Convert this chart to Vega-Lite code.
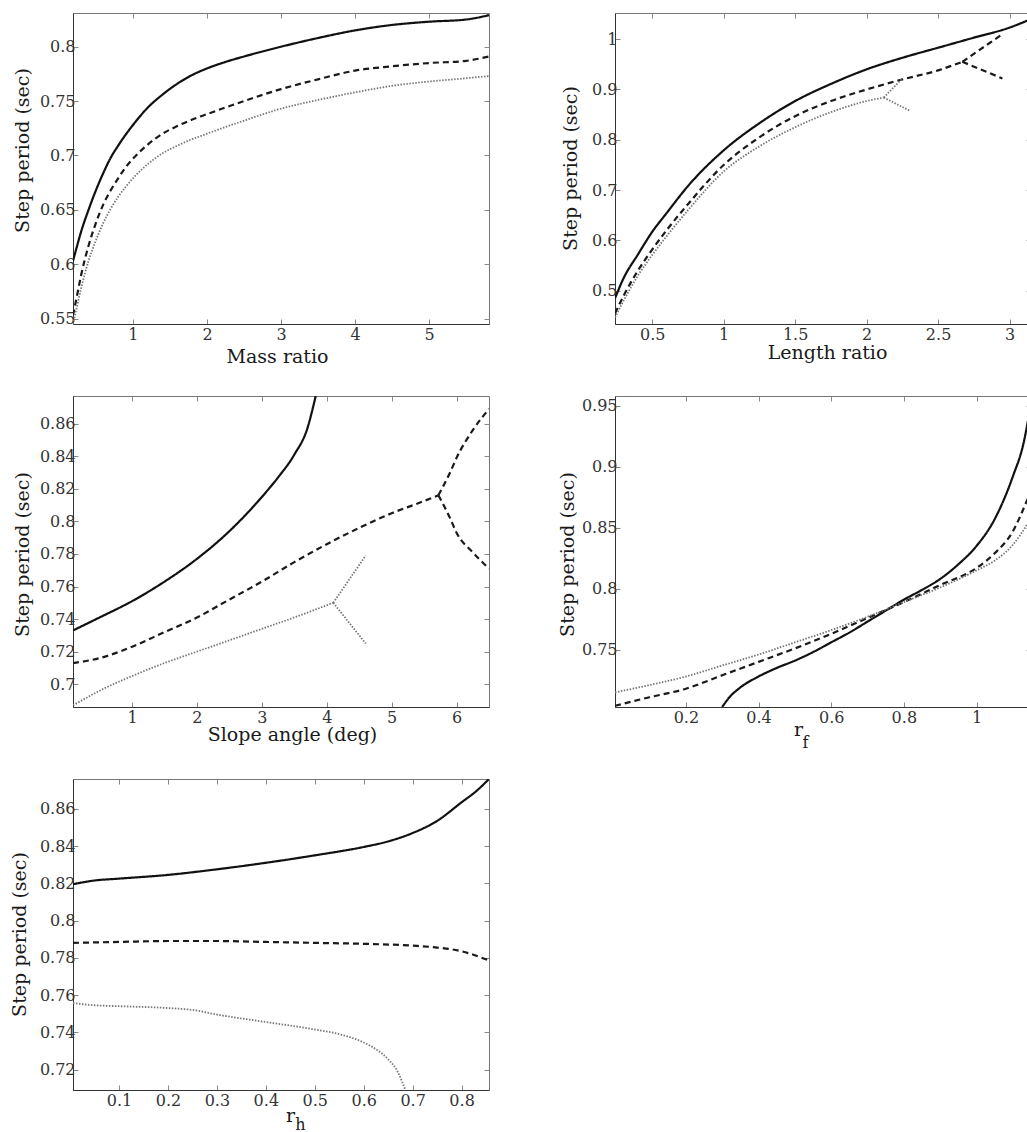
{
  "$schema": "https://vega.github.io/schema/vega-lite/v6.json",
  "background": "white",
  "padding": {"left": 9, "top": 12, "right": 0, "bottom": 0},
  "datasets": {
    "p1": [
      {"x": 0.19, "y": 0.603, "s": "solid", "g": "s"}, {"x": 0.25, "y": 0.618, "s": "solid", "g": "s"}, {"x": 0.3, "y": 0.63, "s": "solid", "g": "s"}, {"x": 0.4, "y": 0.65, "s": "solid", "g": "s"}, {"x": 0.5, "y": 0.668, "s": "solid", "g": "s"}, {"x": 0.6, "y": 0.684, "s": "solid", "g": "s"}, {"x": 0.7, "y": 0.698, "s": "solid", "g": "s"}, {"x": 0.8, "y": 0.709, "s": "solid", "g": "s"}, {"x": 0.9, "y": 0.719, "s": "solid", "g": "s"}, {"x": 1.0, "y": 0.728, "s": "solid", "g": "s"}, {"x": 1.2, "y": 0.744, "s": "solid", "g": "s"}, {"x": 1.4, "y": 0.756, "s": "solid", "g": "s"}, {"x": 1.6, "y": 0.766, "s": "solid", "g": "s"}, {"x": 1.8, "y": 0.774, "s": "solid", "g": "s"}, {"x": 2.0, "y": 0.78, "s": "solid", "g": "s"}, {"x": 2.25, "y": 0.786, "s": "solid", "g": "s"}, {"x": 2.5, "y": 0.791, "s": "solid", "g": "s"}, {"x": 3.0, "y": 0.8, "s": "solid", "g": "s"}, {"x": 3.5, "y": 0.808, "s": "solid", "g": "s"}, {"x": 4.0, "y": 0.815, "s": "solid", "g": "s"}, {"x": 4.5, "y": 0.82, "s": "solid", "g": "s"}, {"x": 5.0, "y": 0.823, "s": "solid", "g": "s"}, {"x": 5.5, "y": 0.825, "s": "solid", "g": "s"}, {"x": 5.81, "y": 0.829, "s": "solid", "g": "s"},
      {"x": 0.19, "y": 0.553, "s": "dashed", "g": "d"}, {"x": 0.25, "y": 0.573, "s": "dashed", "g": "d"}, {"x": 0.3, "y": 0.59, "s": "dashed", "g": "d"}, {"x": 0.4, "y": 0.617, "s": "dashed", "g": "d"}, {"x": 0.5, "y": 0.638, "s": "dashed", "g": "d"}, {"x": 0.6, "y": 0.655, "s": "dashed", "g": "d"}, {"x": 0.7, "y": 0.668, "s": "dashed", "g": "d"}, {"x": 0.8, "y": 0.679, "s": "dashed", "g": "d"}, {"x": 0.9, "y": 0.689, "s": "dashed", "g": "d"}, {"x": 1.0, "y": 0.697, "s": "dashed", "g": "d"}, {"x": 1.2, "y": 0.71, "s": "dashed", "g": "d"}, {"x": 1.4, "y": 0.72, "s": "dashed", "g": "d"}, {"x": 1.6, "y": 0.727, "s": "dashed", "g": "d"}, {"x": 1.8, "y": 0.733, "s": "dashed", "g": "d"}, {"x": 2.0, "y": 0.738, "s": "dashed", "g": "d"}, {"x": 2.5, "y": 0.75, "s": "dashed", "g": "d"}, {"x": 3.0, "y": 0.761, "s": "dashed", "g": "d"}, {"x": 3.5, "y": 0.77, "s": "dashed", "g": "d"}, {"x": 4.0, "y": 0.778, "s": "dashed", "g": "d"}, {"x": 4.5, "y": 0.782, "s": "dashed", "g": "d"}, {"x": 5.0, "y": 0.785, "s": "dashed", "g": "d"}, {"x": 5.5, "y": 0.787, "s": "dashed", "g": "d"}, {"x": 5.81, "y": 0.791, "s": "dashed", "g": "d"},
      {"x": 0.19, "y": 0.545, "s": "dotted", "g": "o"}, {"x": 0.25, "y": 0.563, "s": "dotted", "g": "o"}, {"x": 0.3, "y": 0.578, "s": "dotted", "g": "o"}, {"x": 0.4, "y": 0.603, "s": "dotted", "g": "o"}, {"x": 0.5, "y": 0.622, "s": "dotted", "g": "o"}, {"x": 0.6, "y": 0.638, "s": "dotted", "g": "o"}, {"x": 0.7, "y": 0.651, "s": "dotted", "g": "o"}, {"x": 0.8, "y": 0.662, "s": "dotted", "g": "o"}, {"x": 0.9, "y": 0.671, "s": "dotted", "g": "o"}, {"x": 1.0, "y": 0.679, "s": "dotted", "g": "o"}, {"x": 1.2, "y": 0.692, "s": "dotted", "g": "o"}, {"x": 1.4, "y": 0.702, "s": "dotted", "g": "o"}, {"x": 1.6, "y": 0.709, "s": "dotted", "g": "o"}, {"x": 1.8, "y": 0.715, "s": "dotted", "g": "o"}, {"x": 2.0, "y": 0.72, "s": "dotted", "g": "o"}, {"x": 2.5, "y": 0.732, "s": "dotted", "g": "o"}, {"x": 3.0, "y": 0.743, "s": "dotted", "g": "o"}, {"x": 3.5, "y": 0.751, "s": "dotted", "g": "o"}, {"x": 4.0, "y": 0.758, "s": "dotted", "g": "o"}, {"x": 4.5, "y": 0.764, "s": "dotted", "g": "o"}, {"x": 5.0, "y": 0.768, "s": "dotted", "g": "o"}, {"x": 5.5, "y": 0.771, "s": "dotted", "g": "o"}, {"x": 5.81, "y": 0.773, "s": "dotted", "g": "o"}
    ],
    "p2": [
      {"x": 0.24, "y": 0.485, "s": "solid", "g": "s"}, {"x": 0.3, "y": 0.525, "s": "solid", "g": "s"}, {"x": 0.4, "y": 0.572, "s": "solid", "g": "s"}, {"x": 0.5, "y": 0.617, "s": "solid", "g": "s"}, {"x": 0.6, "y": 0.654, "s": "solid", "g": "s"}, {"x": 0.75, "y": 0.708, "s": "solid", "g": "s"}, {"x": 1.0, "y": 0.779, "s": "solid", "g": "s"}, {"x": 1.25, "y": 0.833, "s": "solid", "g": "s"}, {"x": 1.5, "y": 0.877, "s": "solid", "g": "s"}, {"x": 1.75, "y": 0.911, "s": "solid", "g": "s"}, {"x": 2.0, "y": 0.94, "s": "solid", "g": "s"}, {"x": 2.25, "y": 0.963, "s": "solid", "g": "s"}, {"x": 2.5, "y": 0.983, "s": "solid", "g": "s"}, {"x": 2.75, "y": 1.003, "s": "solid", "g": "s"}, {"x": 3.0, "y": 1.023, "s": "solid", "g": "s"}, {"x": 3.15, "y": 1.04, "s": "solid", "g": "s"},
      {"x": 0.24, "y": 0.455, "s": "dashed", "g": "d"}, {"x": 0.3, "y": 0.49, "s": "dashed", "g": "d"}, {"x": 0.4, "y": 0.54, "s": "dashed", "g": "d"}, {"x": 0.5, "y": 0.582, "s": "dashed", "g": "d"}, {"x": 0.6, "y": 0.62, "s": "dashed", "g": "d"}, {"x": 0.75, "y": 0.672, "s": "dashed", "g": "d"}, {"x": 1.0, "y": 0.75, "s": "dashed", "g": "d"}, {"x": 1.25, "y": 0.805, "s": "dashed", "g": "d"}, {"x": 1.5, "y": 0.847, "s": "dashed", "g": "d"}, {"x": 1.75, "y": 0.877, "s": "dashed", "g": "d"}, {"x": 2.0, "y": 0.9, "s": "dashed", "g": "d"}, {"x": 2.25, "y": 0.92, "s": "dashed", "g": "d"}, {"x": 2.5, "y": 0.938, "s": "dashed", "g": "d"}, {"x": 2.67, "y": 0.955, "s": "dashed", "g": "d"},
      {"x": 2.67, "y": 0.955, "s": "dashed", "g": "du"}, {"x": 2.95, "y": 1.01, "s": "dashed", "g": "du"},
      {"x": 2.67, "y": 0.955, "s": "dashed", "g": "dd"}, {"x": 2.95, "y": 0.922, "s": "dashed", "g": "dd"},
      {"x": 0.24, "y": 0.447, "s": "dotted", "g": "o"}, {"x": 0.3, "y": 0.48, "s": "dotted", "g": "o"}, {"x": 0.4, "y": 0.53, "s": "dotted", "g": "o"}, {"x": 0.5, "y": 0.571, "s": "dotted", "g": "o"}, {"x": 0.6, "y": 0.608, "s": "dotted", "g": "o"}, {"x": 0.75, "y": 0.66, "s": "dotted", "g": "o"}, {"x": 1.0, "y": 0.737, "s": "dotted", "g": "o"}, {"x": 1.25, "y": 0.787, "s": "dotted", "g": "o"}, {"x": 1.5, "y": 0.825, "s": "dotted", "g": "o"}, {"x": 1.75, "y": 0.855, "s": "dotted", "g": "o"}, {"x": 2.0, "y": 0.877, "s": "dotted", "g": "o"}, {"x": 2.12, "y": 0.884, "s": "dotted", "g": "o"},
      {"x": 2.12, "y": 0.884, "s": "dotted", "g": "ou"}, {"x": 2.25, "y": 0.922, "s": "dotted", "g": "ou"},
      {"x": 2.12, "y": 0.884, "s": "dotted", "g": "od"}, {"x": 2.3, "y": 0.858, "s": "dotted", "g": "od"}
    ],
    "p3": [
      {"x": 0.09, "y": 0.733, "s": "solid", "g": "s"}, {"x": 0.5, "y": 0.741, "s": "solid", "g": "s"}, {"x": 1.0, "y": 0.751, "s": "solid", "g": "s"}, {"x": 1.5, "y": 0.763, "s": "solid", "g": "s"}, {"x": 2.0, "y": 0.777, "s": "solid", "g": "s"}, {"x": 2.5, "y": 0.794, "s": "solid", "g": "s"}, {"x": 3.0, "y": 0.815, "s": "solid", "g": "s"}, {"x": 3.25, "y": 0.827, "s": "solid", "g": "s"}, {"x": 3.5, "y": 0.841, "s": "solid", "g": "s"}, {"x": 3.7, "y": 0.857, "s": "solid", "g": "s"}, {"x": 3.83, "y": 0.877, "s": "solid", "g": "s"},
      {"x": 0.09, "y": 0.713, "s": "dashed", "g": "d"}, {"x": 0.5, "y": 0.716, "s": "dashed", "g": "d"}, {"x": 1.0, "y": 0.723, "s": "dashed", "g": "d"}, {"x": 1.5, "y": 0.732, "s": "dashed", "g": "d"}, {"x": 2.0, "y": 0.741, "s": "dashed", "g": "d"}, {"x": 2.5, "y": 0.752, "s": "dashed", "g": "d"}, {"x": 3.0, "y": 0.763, "s": "dashed", "g": "d"}, {"x": 3.5, "y": 0.775, "s": "dashed", "g": "d"}, {"x": 4.0, "y": 0.786, "s": "dashed", "g": "d"}, {"x": 4.5, "y": 0.796, "s": "dashed", "g": "d"}, {"x": 5.0, "y": 0.805, "s": "dashed", "g": "d"}, {"x": 5.4, "y": 0.811, "s": "dashed", "g": "d"}, {"x": 5.72, "y": 0.816, "s": "dashed", "g": "d"},
      {"x": 5.72, "y": 0.816, "s": "dashed", "g": "du"}, {"x": 5.9, "y": 0.83, "s": "dashed", "g": "du"}, {"x": 6.0, "y": 0.839, "s": "dashed", "g": "du"}, {"x": 6.25, "y": 0.856, "s": "dashed", "g": "du"}, {"x": 6.5, "y": 0.869, "s": "dashed", "g": "du"},
      {"x": 5.72, "y": 0.816, "s": "dashed", "g": "dd"}, {"x": 5.9, "y": 0.802, "s": "dashed", "g": "dd"}, {"x": 6.0, "y": 0.793, "s": "dashed", "g": "dd"}, {"x": 6.25, "y": 0.781, "s": "dashed", "g": "dd"}, {"x": 6.5, "y": 0.771, "s": "dashed", "g": "dd"},
      {"x": 0.09, "y": 0.687, "s": "dotted", "g": "o"}, {"x": 0.5, "y": 0.696, "s": "dotted", "g": "o"}, {"x": 1.0, "y": 0.705, "s": "dotted", "g": "o"}, {"x": 1.5, "y": 0.713, "s": "dotted", "g": "o"}, {"x": 2.0, "y": 0.72, "s": "dotted", "g": "o"}, {"x": 2.5, "y": 0.727, "s": "dotted", "g": "o"}, {"x": 3.0, "y": 0.734, "s": "dotted", "g": "o"}, {"x": 3.5, "y": 0.741, "s": "dotted", "g": "o"}, {"x": 4.1, "y": 0.75, "s": "dotted", "g": "o"},
      {"x": 4.1, "y": 0.75, "s": "dotted", "g": "ou"}, {"x": 4.6, "y": 0.779, "s": "dotted", "g": "ou"},
      {"x": 4.1, "y": 0.75, "s": "dotted", "g": "od"}, {"x": 4.6, "y": 0.725, "s": "dotted", "g": "od"}
    ],
    "p4": [
      {"x": 0.3, "y": 0.703, "s": "solid", "g": "s"}, {"x": 0.32, "y": 0.711, "s": "solid", "g": "s"}, {"x": 0.35, "y": 0.719, "s": "solid", "g": "s"}, {"x": 0.4, "y": 0.728, "s": "solid", "g": "s"}, {"x": 0.45, "y": 0.735, "s": "solid", "g": "s"}, {"x": 0.5, "y": 0.741, "s": "solid", "g": "s"}, {"x": 0.55, "y": 0.748, "s": "solid", "g": "s"}, {"x": 0.6, "y": 0.756, "s": "solid", "g": "s"}, {"x": 0.65, "y": 0.764, "s": "solid", "g": "s"}, {"x": 0.7, "y": 0.773, "s": "solid", "g": "s"}, {"x": 0.75, "y": 0.782, "s": "solid", "g": "s"}, {"x": 0.8, "y": 0.791, "s": "solid", "g": "s"}, {"x": 0.85, "y": 0.799, "s": "solid", "g": "s"}, {"x": 0.9, "y": 0.808, "s": "solid", "g": "s"}, {"x": 0.95, "y": 0.82, "s": "solid", "g": "s"}, {"x": 1.0, "y": 0.835, "s": "solid", "g": "s"}, {"x": 1.05, "y": 0.857, "s": "solid", "g": "s"}, {"x": 1.1, "y": 0.892, "s": "solid", "g": "s"}, {"x": 1.13, "y": 0.92, "s": "solid", "g": "s"}, {"x": 1.15, "y": 0.952, "s": "solid", "g": "s"},
      {"x": 0.005, "y": 0.704, "s": "dashed", "g": "d"}, {"x": 0.1, "y": 0.711, "s": "dashed", "g": "d"}, {"x": 0.2, "y": 0.718, "s": "dashed", "g": "d"}, {"x": 0.3, "y": 0.729, "s": "dashed", "g": "d"}, {"x": 0.4, "y": 0.74, "s": "dashed", "g": "d"}, {"x": 0.5, "y": 0.751, "s": "dashed", "g": "d"}, {"x": 0.6, "y": 0.763, "s": "dashed", "g": "d"}, {"x": 0.7, "y": 0.776, "s": "dashed", "g": "d"}, {"x": 0.8, "y": 0.789, "s": "dashed", "g": "d"}, {"x": 0.9, "y": 0.803, "s": "dashed", "g": "d"}, {"x": 1.0, "y": 0.817, "s": "dashed", "g": "d"}, {"x": 1.05, "y": 0.829, "s": "dashed", "g": "d"}, {"x": 1.1, "y": 0.847, "s": "dashed", "g": "d"}, {"x": 1.14, "y": 0.873, "s": "dashed", "g": "d"}, {"x": 1.15, "y": 0.88, "s": "dashed", "g": "d"},
      {"x": 0.005, "y": 0.715, "s": "dotted", "g": "o"}, {"x": 0.1, "y": 0.721, "s": "dotted", "g": "o"}, {"x": 0.2, "y": 0.728, "s": "dotted", "g": "o"}, {"x": 0.3, "y": 0.737, "s": "dotted", "g": "o"}, {"x": 0.4, "y": 0.746, "s": "dotted", "g": "o"}, {"x": 0.5, "y": 0.756, "s": "dotted", "g": "o"}, {"x": 0.6, "y": 0.766, "s": "dotted", "g": "o"}, {"x": 0.7, "y": 0.777, "s": "dotted", "g": "o"}, {"x": 0.8, "y": 0.789, "s": "dotted", "g": "o"}, {"x": 0.9, "y": 0.801, "s": "dotted", "g": "o"}, {"x": 1.0, "y": 0.815, "s": "dotted", "g": "o"}, {"x": 1.05, "y": 0.823, "s": "dotted", "g": "o"}, {"x": 1.1, "y": 0.836, "s": "dotted", "g": "o"}, {"x": 1.14, "y": 0.853, "s": "dotted", "g": "o"}, {"x": 1.15, "y": 0.858, "s": "dotted", "g": "o"}
    ],
    "p5": [
      {"x": 0.006, "y": 0.8195, "s": "solid", "g": "s"}, {"x": 0.05, "y": 0.8215, "s": "solid", "g": "s"}, {"x": 0.1, "y": 0.8225, "s": "solid", "g": "s"}, {"x": 0.2, "y": 0.8245, "s": "solid", "g": "s"}, {"x": 0.3, "y": 0.8275, "s": "solid", "g": "s"}, {"x": 0.4, "y": 0.831, "s": "solid", "g": "s"}, {"x": 0.5, "y": 0.835, "s": "solid", "g": "s"}, {"x": 0.6, "y": 0.8395, "s": "solid", "g": "s"}, {"x": 0.65, "y": 0.8425, "s": "solid", "g": "s"}, {"x": 0.7, "y": 0.847, "s": "solid", "g": "s"}, {"x": 0.75, "y": 0.8535, "s": "solid", "g": "s"}, {"x": 0.8, "y": 0.8635, "s": "solid", "g": "s"}, {"x": 0.83, "y": 0.8695, "s": "solid", "g": "s"}, {"x": 0.856, "y": 0.876, "s": "solid", "g": "s"},
      {"x": 0.006, "y": 0.788, "s": "dashed", "g": "d"}, {"x": 0.1, "y": 0.7885, "s": "dashed", "g": "d"}, {"x": 0.2, "y": 0.789, "s": "dashed", "g": "d"}, {"x": 0.3, "y": 0.789, "s": "dashed", "g": "d"}, {"x": 0.4, "y": 0.7885, "s": "dashed", "g": "d"}, {"x": 0.5, "y": 0.788, "s": "dashed", "g": "d"}, {"x": 0.6, "y": 0.7875, "s": "dashed", "g": "d"}, {"x": 0.7, "y": 0.7865, "s": "dashed", "g": "d"}, {"x": 0.75, "y": 0.7855, "s": "dashed", "g": "d"}, {"x": 0.8, "y": 0.7835, "s": "dashed", "g": "d"}, {"x": 0.856, "y": 0.7785, "s": "dashed", "g": "d"},
      {"x": 0.006, "y": 0.7557, "s": "dotted", "g": "o"}, {"x": 0.05, "y": 0.7545, "s": "dotted", "g": "o"}, {"x": 0.1, "y": 0.754, "s": "dotted", "g": "o"}, {"x": 0.2, "y": 0.753, "s": "dotted", "g": "o"}, {"x": 0.25, "y": 0.752, "s": "dotted", "g": "o"}, {"x": 0.3, "y": 0.7495, "s": "dotted", "g": "o"}, {"x": 0.4, "y": 0.7455, "s": "dotted", "g": "o"}, {"x": 0.5, "y": 0.7415, "s": "dotted", "g": "o"}, {"x": 0.55, "y": 0.739, "s": "dotted", "g": "o"}, {"x": 0.6, "y": 0.7345, "s": "dotted", "g": "o"}, {"x": 0.63, "y": 0.73, "s": "dotted", "g": "o"}, {"x": 0.65, "y": 0.7255, "s": "dotted", "g": "o"}, {"x": 0.67, "y": 0.7185, "s": "dotted", "g": "o"}, {"x": 0.685, "y": 0.709, "s": "dotted", "g": "o"}
    ]
  },
  "columns": 2,
  "spacing": {"row": 72, "column": 126},
  "bounds": "flush",
  "align": "all",
  "concat": [
    {
      "width": 416, "height": 311,
      "data": {"name": "p1"},
      "layer": [
        {
          "mark": {"type": "line", "clip": true, "interpolate": "monotone"},
          "encoding": {
            "x": {"field": "x", "type": "quantitative", "scale": {"domain": [0.19, 5.81], "nice": false, "zero": false}, "axis": {"values": [1, 2, 3, 4, 5], "format": "~g", "title": "Mass ratio", "titleX": 204, "titleY": 38}},
            "y": {"field": "y", "type": "quantitative", "scale": {"domain": [0.545, 0.831], "nice": false, "zero": false}, "axis": {"values": [0.55, 0.6, 0.65, 0.7, 0.75, 0.8], "format": "~g", "title": "Step period (sec)", "titleX": -51, "titleY": 137}},
            "detail": {"field": "g", "type": "nominal"},
            "strokeDash": {"field": "s", "type": "nominal", "scale": {"domain": ["solid", "dashed", "dotted"], "range": [[1, 0], [6, 4], [1.5, 1.5]]}, "legend": null},
            "color": {"field": "s", "type": "nominal", "scale": {"domain": ["solid", "dashed", "dotted"], "range": ["#111111", "#1a1a1a", "#777777"]}, "legend": null},
            "strokeWidth": {"field": "s", "type": "nominal", "scale": {"type": "ordinal", "domain": ["solid", "dashed", "dotted"], "range": [2.2, 2.2, 1.8]}, "legend": null}
          }
        },
        {
          "mark": {"type": "line", "opacity": 0},
          "encoding": {
            "x": {"field": "x", "type": "quantitative", "scale": {"domain": [0.19, 5.81], "nice": false, "zero": false}, "axis": {"orient": "top", "values": [1, 2, 3, 4, 5], "labels": false, "title": null, "domain": false}},
            "y": {"field": "y", "type": "quantitative", "scale": {"domain": [0.545, 0.831], "nice": false, "zero": false}, "axis": {"orient": "right", "values": [0.55, 0.6, 0.65, 0.7, 0.75, 0.8], "labels": false, "title": null, "domain": false}},
            "detail": {"field": "g", "type": "nominal"}
          }
        }
      ],
      "resolve": {"axis": {"x": "independent", "y": "independent"}}
    },
    {
      "width": 416, "height": 311,
      "data": {"name": "p2"},
      "layer": [
        {
          "mark": {"type": "line", "clip": true, "interpolate": "monotone"},
          "encoding": {
            "x": {"field": "x", "type": "quantitative", "scale": {"domain": [0.24, 3.15], "nice": false, "zero": false}, "axis": {"values": [0.5, 1, 1.5, 2, 2.5, 3], "format": "~g", "title": "Length ratio", "titleX": 212, "titleY": 34}},
            "y": {"field": "y", "type": "quantitative", "scale": {"domain": [0.434, 1.052], "nice": false, "zero": false}, "axis": {"values": [0.5, 0.6, 0.7, 0.8, 0.9, 1], "format": "~g", "title": "Step period (sec)", "titleX": -45, "titleY": 155}},
            "detail": {"field": "g", "type": "nominal"},
            "strokeDash": {"field": "s", "type": "nominal", "scale": {"domain": ["solid", "dashed", "dotted"], "range": [[1, 0], [6, 4], [1.5, 1.5]]}, "legend": null},
            "color": {"field": "s", "type": "nominal", "scale": {"domain": ["solid", "dashed", "dotted"], "range": ["#111111", "#1a1a1a", "#777777"]}, "legend": null},
            "strokeWidth": {"field": "s", "type": "nominal", "scale": {"type": "ordinal", "domain": ["solid", "dashed", "dotted"], "range": [2.2, 2.2, 1.8]}, "legend": null}
          }
        },
        {
          "mark": {"type": "line", "opacity": 0},
          "encoding": {
            "x": {"field": "x", "type": "quantitative", "scale": {"domain": [0.24, 3.15], "nice": false, "zero": false}, "axis": {"orient": "top", "values": [0.5, 1, 1.5, 2, 2.5, 3], "labels": false, "title": null, "domain": false}},
            "y": {"field": "y", "type": "quantitative", "scale": {"domain": [0.434, 1.052], "nice": false, "zero": false}, "axis": {"orient": "right", "values": [0.5, 0.6, 0.7, 0.8, 0.9, 1], "labels": false, "title": null, "domain": false}},
            "detail": {"field": "g", "type": "nominal"}
          }
        }
      ],
      "resolve": {"axis": {"x": "independent", "y": "independent"}}
    },
    {
      "width": 416, "height": 311,
      "data": {"name": "p3"},
      "layer": [
        {
          "mark": {"type": "line", "clip": true, "interpolate": "monotone"},
          "encoding": {
            "x": {"field": "x", "type": "quantitative", "scale": {"domain": [0.09, 6.5], "nice": false, "zero": false}, "axis": {"values": [1, 2, 3, 4, 5, 6], "format": "~g", "title": "Slope angle (deg)", "titleX": 219, "titleY": 33}},
            "y": {"field": "y", "type": "quantitative", "scale": {"domain": [0.686, 0.877], "nice": false, "zero": false}, "axis": {"values": [0.7, 0.72, 0.74, 0.76, 0.78, 0.8, 0.82, 0.84, 0.86], "format": "~g", "title": "Step period (sec)", "titleX": -51, "titleY": 158}},
            "detail": {"field": "g", "type": "nominal"},
            "strokeDash": {"field": "s", "type": "nominal", "scale": {"domain": ["solid", "dashed", "dotted"], "range": [[1, 0], [6, 4], [1.5, 1.5]]}, "legend": null},
            "color": {"field": "s", "type": "nominal", "scale": {"domain": ["solid", "dashed", "dotted"], "range": ["#111111", "#1a1a1a", "#777777"]}, "legend": null},
            "strokeWidth": {"field": "s", "type": "nominal", "scale": {"type": "ordinal", "domain": ["solid", "dashed", "dotted"], "range": [2.2, 2.2, 1.8]}, "legend": null}
          }
        },
        {
          "mark": {"type": "line", "opacity": 0},
          "encoding": {
            "x": {"field": "x", "type": "quantitative", "scale": {"domain": [0.09, 6.5], "nice": false, "zero": false}, "axis": {"orient": "top", "values": [1, 2, 3, 4, 5, 6], "labels": false, "title": null, "domain": false}},
            "y": {"field": "y", "type": "quantitative", "scale": {"domain": [0.686, 0.877], "nice": false, "zero": false}, "axis": {"orient": "right", "values": [0.7, 0.72, 0.74, 0.76, 0.78, 0.8, 0.82, 0.84, 0.86], "labels": false, "title": null, "domain": false}},
            "detail": {"field": "g", "type": "nominal"}
          }
        }
      ],
      "resolve": {"axis": {"x": "independent", "y": "independent"}}
    },
    {
      "width": 416, "height": 311,
      "data": {"name": "p4"},
      "layer": [
        {
          "mark": {"type": "line", "clip": true, "interpolate": "monotone"},
          "encoding": {
            "x": {"field": "x", "type": "quantitative", "scale": {"domain": [0.005, 1.15], "nice": false, "zero": false}, "axis": {"values": [0.2, 0.4, 0.6, 0.8, 1], "format": "~g", "title": "r", "titleX": 183, "titleY": 28}},
            "y": {"field": "y", "type": "quantitative", "scale": {"domain": [0.703, 0.958], "nice": false, "zero": false}, "axis": {"values": [0.75, 0.8, 0.85, 0.9, 0.95], "format": "~g", "title": "Step period (sec)", "titleX": -48, "titleY": 158}},
            "detail": {"field": "g", "type": "nominal"},
            "strokeDash": {"field": "s", "type": "nominal", "scale": {"domain": ["solid", "dashed", "dotted"], "range": [[1, 0], [6, 4], [1.5, 1.5]]}, "legend": null},
            "color": {"field": "s", "type": "nominal", "scale": {"domain": ["solid", "dashed", "dotted"], "range": ["#111111", "#1a1a1a", "#777777"]}, "legend": null},
            "strokeWidth": {"field": "s", "type": "nominal", "scale": {"type": "ordinal", "domain": ["solid", "dashed", "dotted"], "range": [2.2, 2.2, 1.8]}, "legend": null}
          }
        },
        {
          "mark": {"type": "line", "opacity": 0},
          "encoding": {
            "x": {"field": "x", "type": "quantitative", "scale": {"domain": [0.005, 1.15], "nice": false, "zero": false}, "axis": {"orient": "top", "values": [0.2, 0.4, 0.6, 0.8, 1], "labels": false, "title": "f", "titleFontSize": 16, "titleX": 190, "titleY": 351, "titleBaseline": "alphabetic", "domain": false}},
            "y": {"field": "y", "type": "quantitative", "scale": {"domain": [0.703, 0.958], "nice": false, "zero": false}, "axis": {"orient": "right", "values": [0.75, 0.8, 0.85, 0.9, 0.95], "labels": false, "title": null, "domain": false}},
            "detail": {"field": "g", "type": "nominal"}
          }
        }
      ],
      "resolve": {"axis": {"x": "independent", "y": "independent"}}
    },
    {
      "width": 416, "height": 311,
      "data": {"name": "p5"},
      "layer": [
        {
          "mark": {"type": "line", "clip": true, "interpolate": "monotone"},
          "encoding": {
            "x": {"field": "x", "type": "quantitative", "scale": {"domain": [0.006, 0.856], "nice": false, "zero": false}, "axis": {"values": [0.1, 0.2, 0.3, 0.4, 0.5, 0.6, 0.7, 0.8], "format": "~g", "title": "r", "titleX": 217, "titleY": 31}},
            "y": {"field": "y", "type": "quantitative", "scale": {"domain": [0.709, 0.876], "nice": false, "zero": false}, "axis": {"values": [0.72, 0.74, 0.76, 0.78, 0.8, 0.82, 0.84, 0.86], "format": "~g", "title": "Step period (sec)", "titleX": -54, "titleY": 155}},
            "detail": {"field": "g", "type": "nominal"},
            "strokeDash": {"field": "s", "type": "nominal", "scale": {"domain": ["solid", "dashed", "dotted"], "range": [[1, 0], [6, 4], [1.5, 1.5]]}, "legend": null},
            "color": {"field": "s", "type": "nominal", "scale": {"domain": ["solid", "dashed", "dotted"], "range": ["#111111", "#1a1a1a", "#777777"]}, "legend": null},
            "strokeWidth": {"field": "s", "type": "nominal", "scale": {"type": "ordinal", "domain": ["solid", "dashed", "dotted"], "range": [2.2, 2.2, 1.8]}, "legend": null}
          }
        },
        {
          "mark": {"type": "line", "opacity": 0},
          "encoding": {
            "x": {"field": "x", "type": "quantitative", "scale": {"domain": [0.006, 0.856], "nice": false, "zero": false}, "axis": {"orient": "top", "values": [0.1, 0.2, 0.3, 0.4, 0.5, 0.6, 0.7, 0.8], "labels": false, "title": "h", "titleFontSize": 16, "titleX": 227, "titleY": 350, "titleBaseline": "alphabetic", "domain": false}},
            "y": {"field": "y", "type": "quantitative", "scale": {"domain": [0.709, 0.876], "nice": false, "zero": false}, "axis": {"orient": "right", "values": [0.72, 0.74, 0.76, 0.78, 0.8, 0.82, 0.84, 0.86], "labels": false, "title": null, "domain": false}},
            "detail": {"field": "g", "type": "nominal"}
          }
        }
      ],
      "resolve": {"axis": {"x": "independent", "y": "independent"}}
    }
  ],
  "config": {
    "view": {"stroke": "#777777", "strokeWidth": 1},
    "axis": {"labelFont": "DejaVu Serif", "labelFontSize": 16, "labelColor": "#333333", "titleFont": "DejaVu Serif", "titleFontSize": 19, "titleFontWeight": "normal", "titleColor": "#1a1a1a", "tickSize": -5, "tickColor": "#888888", "grid": false, "domainColor": "#333333", "labelPadding": 7, "titleAlign": "center", "labelFlush": false},
    "axisX": {"titleBaseline": "alphabetic"},
    "axisY": {"titleBaseline": "middle", "titleAngle": -90, "labelPadding": 3},
    "line": {"strokeCap": "butt"}
  }
}
